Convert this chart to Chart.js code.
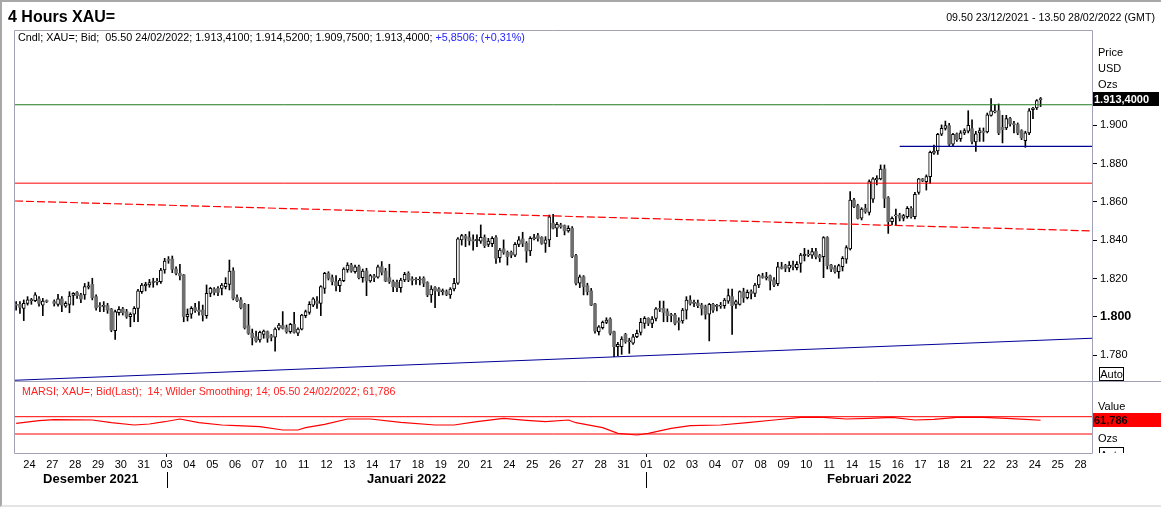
<!DOCTYPE html>
<html>
<head>
<meta charset="utf-8">
<script src="https://cdn.jsdelivr.net/npm/chart.js@4.4.1/dist/chart.umd.min.js"></script>
<style>
  html, body { margin: 0; padding: 0; background: #fff; }
  #wrap { position: relative; width: 1161px; height: 507px; overflow: hidden; font-family: 'Liberation Sans', Arial, sans-serif; }
  #frame { position: absolute; left: 0; top: 0; width: 1159px; height: 503px; border-top: 2px solid #a8a8a8; border-left: 2px solid #a8a8a8; border-bottom: 2px solid #e4e4e4; box-sizing: content-box; }
  canvas { position: absolute; left: 0; top: 0; }
  .t { position: absolute; white-space: nowrap; line-height: 14px; color: #000; }
</style>
</head>
<body>
<div id="wrap">
  <div id="frame"></div>
  <canvas id="c" width="1161" height="507"></canvas>
  <div class="t" style="left:8px;top:8px;font-size:16px;font-weight:bold;line-height:18px;">4 Hours XAU=</div>
  <div class="t" style="right:6px;top:10px;font-size:10.65px;">09.50 23/12/2021 - 13.50 28/02/2022 (GMT)</div>
  <div class="t" style="left:18px;top:30px;font-size:10.8px;">Cndl; XAU=; Bid; &nbsp;05.50 24/02/2022; 1.913,4100; 1.914,5200; 1.909,7500; 1.913,4000; <span style="color:#2323ff">+5,8506; (+0,31%)</span></div>
  <div class="t" style="left:22px;top:384px;font-size:10.7px;color:#ff2020;">MARSI; XAU=; Bid(Last); &nbsp;14; Wilder Smoothing; 14; 05.50 24/02/2022; 61,786</div>
  <div class="t" style="left:1098px;top:45px;font-size:11px;">Price</div>
  <div class="t" style="left:1098px;top:61px;font-size:11px;">USD</div>
  <div class="t" style="left:1098px;top:77px;font-size:11px;">Ozs</div>
  <div class="t" style="left:1093px;top:92px;width:65px;height:14px;background:#000;color:#fff;font-size:11px;font-weight:bold;padding-left:1px;">1.913,4000</div>
  <div class="t" style="left:1099px;top:367px;width:23px;height:12px;border:1px solid #000;font-size:11px;line-height:12px;text-align:center;">Auto</div>
  <div class="t" style="left:1098px;top:399px;font-size:11px;">Value</div>
  <div class="t" style="left:1093px;top:413px;width:67px;height:14px;background:#ff0000;color:#1a0000;font-size:11px;font-weight:bold;padding-left:1px;">61,786</div>
  <div class="t" style="left:1098px;top:431px;font-size:11px;">Ozs</div>
  <div class="t" style="left:1099px;top:447px;width:23px;height:5px;border:1px solid #000;border-bottom:none;overflow:hidden;font-size:11px;line-height:12px;text-align:center;"><div style="margin-top:1px">Auto</div></div>
</div>
<script>
// ---------- DATA ----------
const barsBeforeFirstDay = 4;   // 4h bars on 23/12 before the first labelled day
const barsPerDay = 6;
const dayLabels = ['24','27','28','29','30','31','03','04','05','06','07','10','11','12','13','14','17','18','19','20','21','24','25','26','27','28','31','01','02','03','04','07','08','09','10','11','14','15','16','17','18','21','22','23','24','25','28'];
const monthNames = ['Desember 2021','Januari 2022','Februari 2022'];
const monthFirstDayIndex = [0, 6, 27];

const opens = [1806.3,1806.6,1804.5,1807.1,1808.5,1808.5,1809.4,1806.2,1808.1,null,
1808.0,1806.6,1809.4,1805.7,1806.6,1811.3,1812.7,1811.5,1811.5,1815.5,
1817.0,1810.6,1805.9,1805.5,1805.9,1804.2,1792.8,1802.2,1804.2,1802.8,
1800.2,1801.4,1804.5,1813.2,1816.2,1816.7,1818.0,1818.2,1818.4,1824.5,
1829.7,1830.2,1825.0,1822.8,1821.9,1800.2,1801.4,1804.9,1803.6,1803.6,
1800.7,1812.3,1814.6,1814.9,1814.9,1815.8,1817.0,1824.0,1810.1,1808.9,
1806.6,1795.5,1791.5,1789.7,1788.0,1790.9,1792.3,1790.2,1789.4,1794.1,
1795.5,1794.4,1792.3,1796.2,1791.5,1793.7,1800.7,1802.4,1806.2,1808.3,
1807.1,1814.9,1822.8,1820.5,1818.4,1816.3,1818.9,1824.5,1827.1,1823.6,
1826.2,1820.5,1824.0,1818.8,1821.4,1820.7,1826.2,1824.0,1820.5,1818.4,
1818.1,1815.3,1819.3,1822.8,1819.8,1819.3,1819.3,1820.2,1817.9,1811.5,
1815.3,1814.6,1813.2,1813.2,1811.5,1814.6,1817.6,1840.2,1842.2,1841.4,
1840.2,1839.8,1839.6,1841.5,1837.9,1838.2,1841.4,1830.9,1835.5,1833.7,
1833.7,1832.3,1837.9,1840.7,1838.4,1834.4,1840.9,1842.4,1841.5,1838.4,
1840.2,1848.9,1846.3,1848.0,1847.6,1844.9,1846.3,1832.0,1817.6,1821.0,
1816.3,1813.6,1806.8,1792.3,1794.4,1797.2,1798.9,1792.3,1784.5,1784.5,
1790.9,1787.1,1786.3,1789.7,1792.0,1796.7,1799.3,1796.7,1799.3,1804.5,
1804.5,1802.8,1800.9,1801.0,1797.9,1797.9,1803.6,1808.8,1807.1,1807.3,
1806.2,1805.4,1801.4,1806.6,1805.5,1805.7,1805.9,1808.3,1810.6,1806.6,
1806.6,1813.2,1810.1,1813.2,1812.3,1816.7,1821.4,1820.2,1821.5,1819.3,
1817.4,1826.1,1826.8,1825.4,1827.1,1825.7,1828.0,1832.0,1832.3,1832.3,
1834.1,1832.0,1831.5,1841.4,1827.1,1825.7,1823.6,1826.2,1830.2,1835.5,
1861.0,1858.1,1851.5,1856.7,1854.6,1861.5,1871.5,1872.0,1877.2,1862.2,
1849.7,1852.7,1853.2,1851.5,1852.3,1856.7,1852.3,1865.0,1872.0,1870.6,
1873.2,1885.4,1886.6,1895.3,1898.4,1899.8,1890.1,1895.5,1893.0,1896.0,
1896.9,1898.2,1891.3,1896.0,1896.9,1896.5,1905.2,1907.0,1907.6,1898.9,
1898.6,1903.5,1900.7,1900.3,1897.2,1892.0,1896.0,1908.2,1909.0,1913.41];

const highs = [1808.0,1808.0,1808.9,1810.6,1809.7,1812.7,1810.6,1809.7,1808.9,null,
1808.9,1811.8,1810.6,1808.0,1813.2,1812.7,1813.2,1812.3,1817.5,1818.2,
1820.2,1811.5,1807.5,1808.0,1807.1,1804.5,1803.6,1805.4,1805.0,1804.0,
1802.2,1805.4,1814.4,1817.5,1818.1,1819.6,1820.2,1820.2,1825.4,1830.6,
1831.5,1831.8,1826.2,1827.5,1822.2,1804.2,1805.4,1807.1,1808.0,1806.2,
1816.7,1815.5,1815.3,1815.8,1817.5,1820.5,1829.7,1825.7,1811.5,1810.1,
1807.1,1806.6,1793.7,1792.7,1792.7,1793.2,1792.7,1790.9,1794.4,1796.7,
1802.8,1795.8,1796.7,1802.4,1794.4,1801.4,1803.6,1808.0,1810.1,1810.6,
1816.3,1823.3,1823.6,1821.9,1821.6,1820.2,1825.7,1828.3,1828.0,1827.1,
1827.1,1825.0,1825.4,1822.2,1822.2,1827.1,1828.9,1825.4,1827.5,1819.3,
1819.3,1820.2,1823.3,1823.6,1821.0,1820.5,1821.0,1821.0,1818.4,1816.3,
1815.8,1815.3,1814.6,1814.1,1815.3,1820.2,1841.4,1843.1,1843.1,1844.5,
1842.8,1842.8,1848.0,1842.8,1841.0,1841.9,1842.4,1835.8,1840.2,1834.4,
1834.4,1838.8,1841.9,1844.2,1839.3,1841.9,1843.1,1843.6,1841.9,1841.9,
1853.2,1853.5,1849.4,1848.9,1848.0,1847.6,1847.1,1832.7,1821.9,1821.6,
1817.6,1814.9,1807.1,1795.5,1797.9,1799.6,1799.6,1792.7,1786.8,1789.7,
1791.5,1788.9,1790.9,1793.2,1799.3,1800.2,1799.6,1800.2,1804.9,1808.3,
1808.3,1804.2,1801.9,1801.9,1799.6,1804.5,1810.6,1811.1,1808.8,1808.8,
1807.1,1806.2,1807.1,1807.1,1806.6,1807.6,1809.7,1814.6,1814.6,1808.8,
1813.6,1815.0,1814.1,1814.1,1817.5,1822.2,1822.8,1823.3,1821.9,1820.5,
1828.5,1828.5,1827.5,1828.9,1829.2,1828.9,1833.2,1835.8,1834.9,1835.8,
1835.8,1832.7,1841.9,1841.9,1827.5,1826.8,1827.5,1831.5,1837.2,1865.4,
1861.9,1858.8,1857.0,1858.8,1871.5,1872.7,1873.7,1879.3,1879.3,1862.8,
1852.3,1856.3,1854.1,1853.5,1857.6,1857.6,1865.0,1872.3,1872.3,1874.1,
1886.6,1889.7,1895.8,1900.2,1902.2,1901.0,1895.8,1896.0,1897.2,1898.2,
1907.6,1902.9,1896.9,1898.6,1898.6,1906.4,1913.9,1910.8,1911.1,1905.2,
1905.2,1904.2,1902.1,1901.2,1897.7,1896.9,1908.7,1909.4,1913.4,1914.52];

const lows = [1803.6,1801.9,1798.1,1806.2,1806.6,1808.0,1805.7,1800.7,1807.5,null,
1805.7,1805.7,1802.8,1805.0,1802.2,1806.2,1809.7,1807.5,1809.2,1814.6,
1808.9,1803.6,1802.8,1802.8,1801.9,1792.3,1788.3,1801.0,1801.0,1799.3,
1794.9,1797.5,1797.5,1812.3,1813.6,1815.5,1815.5,1816.7,1817.5,1822.8,
1828.0,1823.1,1821.9,1819.3,1797.5,1797.9,1799.3,1802.4,1801.0,1797.9,
1799.3,1810.6,1811.5,1811.1,1811.5,1814.6,1814.1,1808.9,1808.0,1804.2,
1793.7,1790.9,1785.4,1786.8,1786.8,1788.9,1786.8,1787.5,1782.2,1793.2,
1793.7,1791.5,1791.5,1791.5,1790.2,1793.2,1799.6,1801.4,1805.4,1804.5,
1800.7,1812.3,1819.3,1816.7,1813.6,1813.2,1818.4,1823.3,1823.3,1822.8,
1819.8,1818.1,1811.1,1818.1,1818.4,1820.2,1821.9,1818.4,1817.5,1813.2,
1813.2,1812.9,1818.4,1818.4,1816.7,1817.0,1816.7,1815.8,1810.6,1807.6,
1804.9,1811.1,1811.5,1811.1,1809.7,1813.6,1817.0,1837.5,1836.7,1837.5,
1834.9,1836.7,1838.4,1836.2,1836.7,1836.7,1828.0,1828.5,1832.7,1827.1,
1830.9,1831.4,1836.7,1836.7,1828.5,1832.0,1840.2,1839.6,1837.9,1833.7,
1836.7,1845.9,1841.9,1846.3,1842.8,1844.2,1830.9,1816.7,1815.3,1811.5,
1811.5,1805.9,1791.5,1790.6,1793.7,1796.5,1790.6,1779.3,1779.8,1780.5,
1786.3,1781.0,1785.7,1789.2,1790.6,1794.1,1795.5,1794.4,1797.9,1802.8,
1797.5,1797.5,1797.5,1795.8,1793.2,1796.7,1798.9,1806.2,1805.4,1804.9,
1801.0,1798.9,1787.5,1802.4,1803.1,1804.5,1804.5,1807.1,1790.9,1804.5,
1806.2,1807.6,1809.4,1809.4,1810.6,1815.3,1820.2,1819.3,1814.1,1815.8,
1816.3,1825.0,1823.6,1823.6,1824.5,1824.5,1823.3,1829.2,1831.5,1830.6,
1830.3,1828.9,1820.5,1825.0,1823.6,1822.8,1820.2,1824.0,1828.0,1834.9,
1857.0,1851.1,1850.6,1854.1,1853.2,1859.8,1868.9,1871.5,1857.0,1843.6,
1848.0,1848.0,1850.1,1850.1,1851.5,1851.5,1851.1,1864.0,1870.6,1866.2,
1869.7,1884.8,1884.8,1894.6,1897.5,1889.4,1888.9,1891.6,1891.6,1895.1,
1896.0,1890.3,1886.4,1891.6,1891.6,1896.0,1904.7,1906.4,1895.1,1890.8,
1897.7,1899.5,1896.0,1895.1,1892.5,1888.5,1895.1,1903.5,1908.2,1909.75];

const closes = [1806.1,1805.0,1807.1,1808.9,1808.7,1811.5,1807.1,1808.3,1808.0,null,
1807.1,1809.4,1806.2,1807.1,1810.9,1812.3,1811.1,1809.4,1815.8,1816.3,
1810.1,1804.8,1805.4,1805.9,1803.6,1793.2,1802.8,1804.0,1802.2,1800.2,
1801.4,1804.5,1813.6,1816.7,1817.2,1817.9,1818.2,1818.6,1824.5,1829.2,
1829.5,1824.9,1822.8,1821.5,1800.2,1801.4,1804.5,1803.3,1802.8,1801.0,
1812.3,1814.9,1812.8,1812.8,1816.7,1817.5,1824.0,1809.7,1808.5,1804.9,
1794.4,1791.5,1789.2,1787.5,1792.0,1792.7,1788.9,1789.4,1793.7,1795.8,
1794.1,1792.3,1796.2,1792.0,1793.7,1801.0,1802.8,1806.6,1809.4,1807.1,
1815.8,1822.8,1820.2,1818.4,1816.3,1819.3,1825.0,1827.1,1824.0,1826.2,
1820.5,1824.0,1818.8,1821.6,1820.5,1826.2,1823.3,1818.8,1818.4,1815.8,
1815.3,1819.3,1822.2,1819.3,1819.1,1819.6,1819.6,1817.6,1811.5,1814.6,
1813.6,1813.2,1813.6,1811.8,1814.6,1817.6,1840.7,1842.4,1841.0,1839.8,
1839.6,1840.5,1841.5,1837.2,1839.6,1841.0,1830.6,1834.9,1833.7,1831.5,
1832.3,1837.9,1840.2,1838.4,1834.4,1841.0,1841.2,1841.0,1838.4,1840.2,
1852.3,1846.3,1848.3,1847.1,1844.9,1846.3,1831.5,1817.6,1821.0,1815.8,
1813.2,1806.2,1792.7,1794.9,1797.2,1798.4,1791.5,1784.5,1785.7,1788.5,
1787.1,1787.5,1789.7,1791.5,1797.2,1799.3,1796.7,1798.9,1804.2,1804.0,
1802.4,1800.7,1800.7,1796.7,1797.2,1803.6,1808.8,1807.1,1807.3,1805.9,
1804.5,1801.4,1806.6,1803.6,1805.9,1806.1,1808.8,1811.1,1805.9,1808.0,
1813.2,1810.1,1812.9,1812.3,1816.7,1821.6,1820.7,1821.0,1818.8,1816.7,
1826.1,1825.4,1825.4,1827.1,1826.2,1827.5,1832.3,1832.7,1832.7,1834.1,
1831.5,1830.9,1841.4,1826.8,1825.0,1823.6,1826.8,1830.6,1836.2,1861.0,
1857.6,1851.5,1856.3,1854.9,1870.6,1872.0,1872.3,1877.2,1861.9,1849.7,
1851.5,1853.2,1851.5,1852.9,1856.7,1852.3,1864.0,1872.0,1871.0,1873.2,
1885.9,1886.6,1895.3,1898.4,1899.8,1890.1,1895.3,1892.5,1896.0,1897.2,
1900.0,1891.6,1895.5,1897.2,1896.3,1905.5,1907.6,1907.3,1896.0,1897.7,
1903.5,1900.7,1900.3,1896.0,1893.4,1896.0,1907.6,1909.0,1912.9,1913.40];

// RSI (MARSI 14): bar index and value
const rsiBars   = [0,6,10,20,25,31,35,39,43,48,54,58,64,70,74,76,81,87,93,101,110,115,121,128,134,139,145,147,148,154,158,163,166,172,177,185,192,199,206,212,218,224,230,236,241,247,254,260,265,269];
const rsiValues = [54.7,60.8,63.1,62.4,56.1,50.8,53.1,58.4,64.7,56.1,50.8,49.2,46.9,39.2,39.2,44.6,52.4,64.7,64.7,57.0,50.8,50.8,58.4,66.2,61.7,58.4,62.4,56.1,54.7,44.6,31.6,27.7,31.6,43.1,49.2,50.8,56.1,62.4,68.6,68.6,64.7,66.2,68.6,62.4,64.0,68.6,68.6,66.2,64.0,61.786];

// Drawn lines
const resistanceLevel = 1910.7;
const supportLevel = 1889.0;
const supportStartBar = 232;
const redLevel = 1869.8;
const dashedTrend = [1860.5, 1844.9];   // value at left edge, right edge
const blueTrend = [1767.0, 1788.9];     // value at left edge, right edge
const rsiBands = [70, 30];
const priceTicks = [1780, 1800, 1820, 1840, 1860, 1880, 1900];

// ---------- BUILD ----------
const xMin = -0.3, xMax = 282.5;
const dayStart = i => barsBeforeFirstDay + barsPerDay * i - 0.5;
const monthBounds = [xMin, ...monthFirstDayIndex.slice(1).map(dayStart), xMax];
const monthCenters = monthNames.map((_, i) => (monthBounds[i] + monthBounds[i + 1]) / 2);

const wickData = [], upData = [], downData = [];
for (let i = 0; i < opens.length; i++) {
  if (opens[i] == null) continue;
  wickData.push({ x: i, y: [lows[i], highs[i]] });
  const body = { x: i, y: [opens[i], closes[i]] };
  if (closes[i] >= opens[i] - 0.05) upData.push(body); else downData.push(body);
}
const hLine = (v0, v1, a = xMin, b = xMax) => [{ x: a, y: v0 }, { x: b, y: v1 }];
const fmt = v => Math.floor(v / 1000) + '.' + String(Math.round(v % 1000)).padStart(3, '0');

const framePlugin = {
  id: 'frame',
  afterDraw(chart) {
    const { ctx, chartArea: a, scales } = chart;
    const L = Math.round(a.left) - 0.5, R = Math.round(a.right) + 0.5;
    const T = Math.round(a.top) + 0.5, B = Math.round(a.bottom) + 0.5;
    const S = Math.round(scales.y.bottom) + 0.5;
    ctx.save();
    ctx.lineWidth = 1;
    ctx.strokeStyle = '#a2a2b6';
    ctx.beginPath();
    ctx.moveTo(L, T); ctx.lineTo(R, T);
    ctx.moveTo(L, T); ctx.lineTo(L, B);
    ctx.moveTo(R, T); ctx.lineTo(R, B);
    ctx.moveTo(L, B); ctx.lineTo(R, B);
    ctx.moveTo(L, S); ctx.lineTo(chart.width, S);
    ctx.stroke();
    ctx.strokeStyle = '#000';
    ctx.beginPath();
    const xm = scales.xm;
    monthFirstDayIndex.slice(1).forEach(d => {
      const px = Math.round(scales.x.getPixelForValue(dayStart(d))) + 0.5;
      ctx.moveTo(px, xm.top + 1); ctx.lineTo(px, xm.top + 17);
    });
    ctx.stroke();
    ctx.restore();
  }
};

Chart.defaults.font.family = "'Liberation Sans', Arial, sans-serif";
Chart.defaults.color = '#000';

new Chart(document.getElementById('c'), {
  type: 'bar',
  data: {
    datasets: [
      { type: 'bar', data: wickData, backgroundColor: '#000', barThickness: 1, grouped: false, order: 3, yAxisID: 'y' },
      { type: 'bar', data: upData, backgroundColor: '#fff', borderColor: '#000', borderWidth: 1, borderSkipped: false, barThickness: 3, minBarLength: 1, grouped: false, order: 2, yAxisID: 'y' },
      { type: 'bar', data: downData, backgroundColor: '#6e6e6e', borderWidth: 0, barThickness: 3, minBarLength: 1, grouped: false, order: 2, yAxisID: 'y' },
      { type: 'line', data: hLine(resistanceLevel, resistanceLevel), borderColor: '#1f7a1f', borderWidth: 1, pointRadius: 0, order: 1, yAxisID: 'y' },
      { type: 'line', data: hLine(supportLevel, supportLevel, supportStartBar), borderColor: '#000099', borderWidth: 1.2, pointRadius: 0, order: 1, yAxisID: 'y' },
      { type: 'line', data: hLine(redLevel, redLevel), borderColor: '#ff0000', borderWidth: 1, pointRadius: 0, order: 1, yAxisID: 'y' },
      { type: 'line', data: hLine(dashedTrend[0], dashedTrend[1]), borderColor: '#ff0000', borderWidth: 1.2, borderDash: [8, 3], pointRadius: 0, order: 1, yAxisID: 'y' },
      { type: 'line', data: hLine(blueTrend[0], blueTrend[1]), borderColor: '#000099', borderWidth: 1.2, pointRadius: 0, order: 1, yAxisID: 'y' },
      { type: 'line', data: hLine(rsiBands[0], rsiBands[0]), borderColor: '#ff0000', borderWidth: 1, pointRadius: 0, order: 1, yAxisID: 'rsi' },
      { type: 'line', data: hLine(rsiBands[1], rsiBands[1]), borderColor: '#ff0000', borderWidth: 1, pointRadius: 0, order: 1, yAxisID: 'rsi' },
      { type: 'line', data: rsiBars.map((b, i) => ({ x: b, y: rsiValues[i] })), borderColor: '#ff0000', borderWidth: 1.2, pointRadius: 0, tension: 0, order: 1, yAxisID: 'rsi' }
    ]
  },
  options: {
    responsive: false,
    animation: false,
    events: [],
    layout: { padding: { left: 15, top: 30, right: 0, bottom: 0 } },
    plugins: { legend: { display: false }, tooltip: { enabled: false } },
    scales: {
      x: {
        type: 'linear', position: 'bottom', min: xMin, max: xMax, offset: false,
        afterBuildTicks: s => { s.ticks = dayLabels.map((_, i) => ({ value: dayStart(i) })); },
        afterFit: s => { s.height = 18; },
        ticks: { autoSkip: false, maxRotation: 0, padding: 1, font: { size: 11 }, callback: (v, i) => dayLabels[i] },
        grid: { drawOnChartArea: false, offset: false, tickLength: 4, color: c => monthFirstDayIndex.slice(1).includes(c.index) ? '#000' : 'rgba(0,0,0,0)' },
        border: { display: false }
      },
      xm: {
        type: 'linear', position: 'bottom', min: xMin, max: xMax, offset: false,
        afterBuildTicks: s => { s.ticks = monthCenters.map(v => ({ value: v })); },
        afterFit: s => { s.height = 36; },
        ticks: { autoSkip: false, maxRotation: 0, padding: 1, font: { size: 13, weight: 'bold' }, callback: (v, i) => monthNames[i] },
        grid: { display: false, drawTicks: false, tickLength: 0 },
        border: { display: false }
      },
      y: {
        type: 'linear', position: 'right', stack: 'panes', stackWeight: 351,
        min: 1766.6, max: 1949.7,
        afterBuildTicks: s => { s.ticks = priceTicks.map(v => ({ value: v })); },
        afterFit: s => { s.width = 69; },
        ticks: { padding: 3, font: c => (c.tick && c.tick.value === 1800) ? { size: 12.5, weight: 'bold' } : { size: 11 }, callback: v => fmt(v) },
        grid: { drawOnChartArea: false, tickLength: 5, color: '#000' },
        border: { display: false }
      },
      rsi: {
        type: 'linear', position: 'right', stack: 'panes', stackWeight: 72,
        min: -13.9, max: 152.5,
        afterFit: s => { s.width = 69; },
        ticks: { display: false },
        grid: { display: false },
        border: { display: false }
      }
    }
  },
  plugins: [framePlugin]
});
</script>
</body>
</html>
